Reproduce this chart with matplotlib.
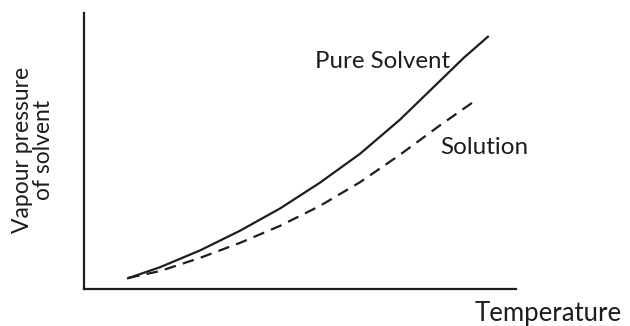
import numpy as np
import matplotlib.pyplot as plt

# Vapour pressure curves (arbitrary units)
temp_pure = [1.02, 1.76, 2.69, 3.61, 4.54, 5.46, 6.39, 7.31, 8.24, 8.80, 9.35]
vp_pure = [0.39, 0.79, 1.40, 2.11, 2.92, 3.85, 4.90, 6.13, 7.54, 8.39, 9.14]

temp_soln = [1.02, 1.76, 2.69, 3.61, 4.54, 5.46, 6.39, 7.31, 8.24, 9.07]
vp_soln = [0.40, 0.65, 1.13, 1.67, 2.29, 3.01, 3.87, 4.86, 5.93, 6.84]

W, H = 630, 326
font = "Lato"
ink = "#1f1c1d"

fig = plt.figure(figsize=(W / 100, H / 100), dpi=100)
ax = fig.add_axes([84 / W, 1 - 289 / H, (516 - 84) / W, (289 - 13) / H])
ax.set_xlim(0, 10)
ax.set_ylim(0, 10)

ax.plot(temp_pure, vp_pure, color=ink, lw=1.6, solid_joinstyle="round")
ax.plot(temp_soln, vp_soln, color=ink, lw=1.6, dashes=(5.2, 3.3))

for side in ["top", "right"]:
    ax.spines[side].set_visible(False)
for side in ["left", "bottom"]:
    ax.spines[side].set_linewidth(1.6)
    ax.spines[side].set_color(ink)
ax.set_xticks([])
ax.set_yticks([])

# labels
fig.text(315 / W, 1 - 68 / H, "Pure Solvent", fontsize=17.3, family=font,
         color=ink, va="baseline", ha="left")
fig.text(440 / W, 1 - 154 / H, "Solution", fontsize=17.5, family=font,
         color=ink, va="baseline", ha="left")
fig.text(622 / W, 1 - 321 / H, "Temperature", fontsize=18.5, family=font,
         color=ink, va="baseline", ha="right")
fig.text(33 / W, 1 - 150 / H, "Vapour pressure\nof solvent", fontsize=16.5,
         family=font, color=ink, rotation=90, va="center", ha="center",
         multialignment="center", linespacing=1.0)

fig.savefig("out.png", dpi=100)
